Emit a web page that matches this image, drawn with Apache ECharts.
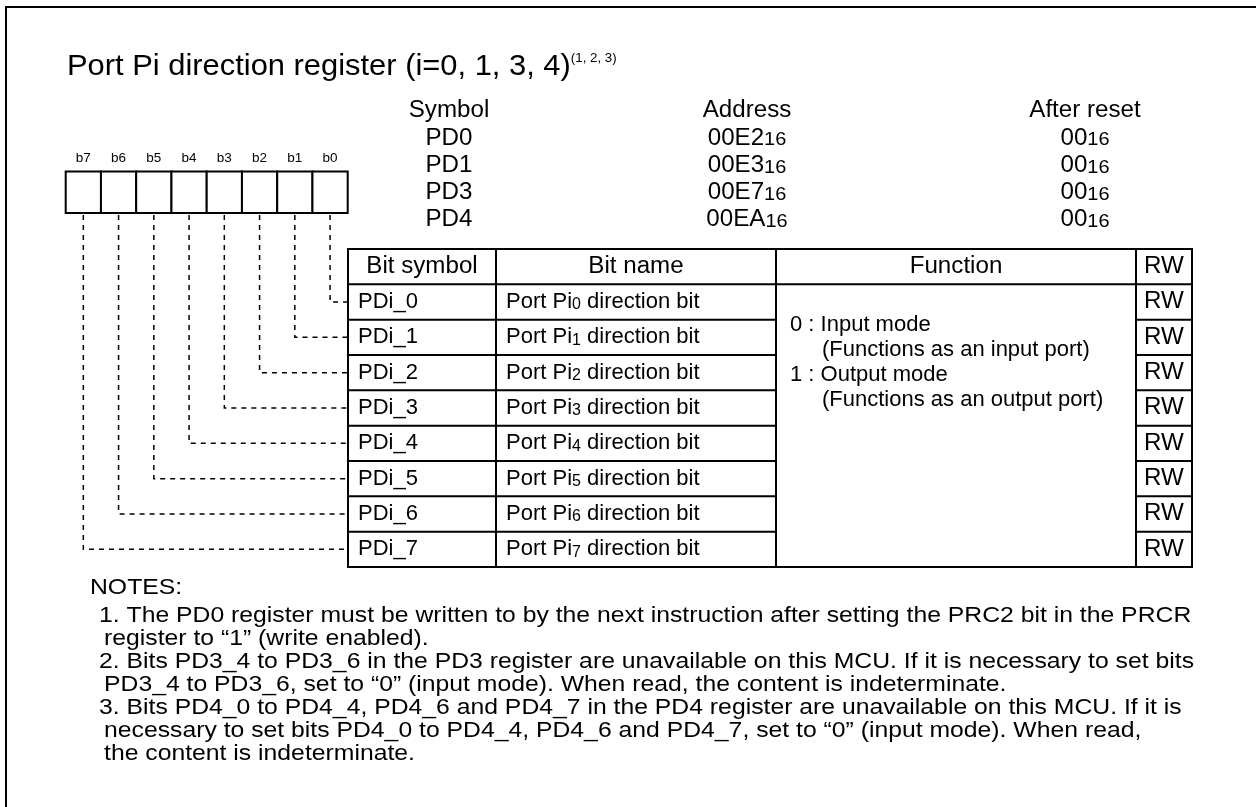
<!DOCTYPE html>
<html><head><meta charset="utf-8">
<script src="https://cdn.jsdelivr.net/npm/echarts@6/dist/echarts.min.js"></script>
<style>html,body{margin:0;padding:0;background:#fff}#c{width:1256px;height:807px}</style>
</head><body><div id="c"></div>
<script>
// ---------------- data ----------------
const titleText = 'Port Pi direction register (i=0, 1, 3, 4)';
const titleNoteRefs = '(1, 2, 3)';
const bitLabels = ['b7', 'b6', 'b5', 'b4', 'b3', 'b2', 'b1', 'b0'];
const regHeaders = ['Symbol', 'Address', 'After reset'];
const regSymbols = ['PD0', 'PD1', 'PD3', 'PD4'];
const regAddresses = ['00E2', '00E3', '00E7', '00EA'];
const regResets = ['00', '00', '00', '00'];
const radixSuffix = '16';
const tableHeaders = ['Bit symbol', 'Bit name', 'Function', 'RW'];
const bitSymbols = ['PDi_0', 'PDi_1', 'PDi_2', 'PDi_3', 'PDi_4', 'PDi_5', 'PDi_6', 'PDi_7'];
const bitNumbers = ['0', '1', '2', '3', '4', '5', '6', '7'];
const bitNamePrefix = 'Port Pi';
const bitNameSuffix = ' direction bit';
const rwValues = ['RW', 'RW', 'RW', 'RW', 'RW', 'RW', 'RW', 'RW'];
const functionLines = ['0 : Input mode', '(Functions as an input port)', '1 : Output mode', '(Functions as an output port)'];
const notesHeader = 'NOTES:';
const notes = [
  ['1. The PD0 register must be written to by the next instruction after setting the PRC2 bit in the PRCR',
   'register to \u201C1\u201D (write enabled).'],
  ['2. Bits PD3_4 to PD3_6 in the PD3 register are unavailable on this MCU. If it is necessary to set bits',
   'PD3_4 to PD3_6, set to \u201C0\u201D (input mode). When read, the content is indeterminate.'],
  ['3. Bits PD4_0 to PD4_4, PD4_6 and PD4_7 in the PD4 register are unavailable on this MCU. If it is',
   'necessary to set bits PD4_0 to PD4_4, PD4_6 and PD4_7, set to \u201C0\u201D (input mode). When read,',
   'the content is indeterminate.']
];

// ---------------- layout (axis units = px) ----------------
const W = 1256, H = 807;
const FONT = '"Liberation Sans", Arial, Helvetica, sans-serif';
const L = {
  frame: { x: 6, y: 7, lw: 2 },
  title: { x: 67, y: 66.5, size: 29, sx: 1.065, supSize: 12.5 },
  box: { x0: 65.7, w: 35.25, y0: 171.5, y1: 213, lw: 2, labelY: 158.5, labelSize: 13.5 },
  reg: { cols: [449, 747, 1085], y0: 111, dy: 27.2, size: 23, sx: 1.05, subSize: 19 },
  table: { x: [348, 496, 776, 1136, 1192], y0: 249, rowH: 35.33, lw: 2, headSize: 23, headSx: 1.05, bodySize: 22, subSize: 16, rwSize: 23, rwSx: 1.05, padL: 10 },
  dash: { lw: 1.5, dash: [5, 5] },
  func: { x0: 790, x1: 822, y0: 325, dy: 25, size: 22 },
  notes: { headX: 90, headY: 588, x0: 99, x1: 104, y0: 616, dy: 23, size: 22.5, sx: 1.1 }
};

// ---------------- helpers ----------------
function txt(api, x, y, text, size, align, rich, sx) {
  const p = api.coord([x, y]);
  const style = {
    text: text, fill: '#000', fontSize: size, fontFamily: FONT,
    align: align, textAlign: align, verticalAlign: 'middle', textVerticalAlign: 'middle'
  };
  if (rich) style.rich = rich;
  const el = { type: 'text', x: p[0], y: p[1], style: style };
  if (sx) { el.scaleX = sx; el.scaleY = 1; }
  return el;
}
function ln(api, x1, y1, x2, y2, lw, dash) {
  const a = api.coord([x1, y1]), b = api.coord([x2, y2]);
  return { type: 'line', shape: { x1: a[0], y1: a[1], x2: b[0], y2: b[1] },
    style: { stroke: '#000', lineWidth: lw, lineDash: dash || null, fill: null } };
}
function custom(name, arr, renderItem) {
  return { type: 'custom', name: name, coordinateSystem: 'cartesian2d', silent: true, clip: false,
    data: arr.map(function (_, i) { return [i, 0]; }), renderItem: renderItem };
}
const T = L.table;
function rowCenter(r) { return T.y0 + T.rowH * r + T.rowH / 2; }
function subRich(main, sub) {
  return { m: { fontSize: main, fontFamily: FONT, fill: '#000', verticalAlign: 'bottom' },
           s: { fontSize: sub, fontFamily: FONT, fill: '#000', verticalAlign: 'bottom' } };
}

const series = [];

// frame
series.push(custom('frame', [0], function (params, api) {
  return { type: 'group', children: [
    ln(api, L.frame.x - 1, L.frame.y, W, L.frame.y, L.frame.lw),
    ln(api, L.frame.x, L.frame.y, L.frame.x, H, L.frame.lw)
  ] };
}));

// title
series.push(custom('title', [0], function (params, api) {
  return txt(api, L.title.x, L.title.y, '{t|' + titleText + '}{s|' + titleNoteRefs + '}', L.title.size, 'left', {
    t: { fontSize: L.title.size, fontFamily: FONT, fill: '#000', verticalAlign: 'middle' },
    s: { fontSize: L.title.supSize, fontFamily: FONT, fill: '#000', verticalAlign: 'top' }
  }, L.title.sx);
}));

// bit boxes + labels
series.push(custom('bits', bitLabels, function (params, api) {
  const i = api.value(0), B = L.box;
  const x = B.x0 + i * B.w;
  const a = api.coord([x, B.y0]), b = api.coord([x + B.w, B.y1]);
  return { type: 'group', children: [
    { type: 'rect', shape: { x: a[0], y: a[1], width: b[0] - a[0], height: b[1] - a[1] },
      style: { stroke: '#000', lineWidth: B.lw, fill: '#fff' } },
    txt(api, x + B.w / 2, B.labelY, bitLabels[i], B.labelSize, 'center')
  ] };
}));

// dashed connectors
series.push(custom('connectors', bitLabels, function (params, api) {
  const i = api.value(0), B = L.box;
  const row = bitLabels.length - i;          // b0 -> first body row
  const cx = B.x0 + i * B.w + B.w / 2;
  const y = rowCenter(row);
  const p1 = api.coord([cx, B.y1 + 2]), p2 = api.coord([cx, y]), p3 = api.coord([T.x[0], y]);
  return { type: 'polyline', shape: { points: [p1, p2, p3] },
    style: { stroke: '#000', lineWidth: L.dash.lw, lineDash: L.dash.dash, fill: null } };
}));

// register info headers
series.push(custom('regHeaders', regHeaders, function (params, api) {
  const i = api.value(0);
  return txt(api, L.reg.cols[i], L.reg.y0, regHeaders[i], L.reg.size, 'center', null, L.reg.sx);
}));
// register rows
series.push(custom('regRows', regSymbols, function (params, api) {
  const i = api.value(0), R = L.reg, y = R.y0 + R.dy * (i + 1);
  const rich = subRich(R.size, R.subSize);
  return { type: 'group', children: [
    txt(api, R.cols[0], y, regSymbols[i], R.size, 'center', null, R.sx),
    txt(api, R.cols[1], y, '{m|' + regAddresses[i] + '}{s|' + radixSuffix + '}', R.size, 'center', rich, R.sx),
    txt(api, R.cols[2], y, '{m|' + regResets[i] + '}{s|' + radixSuffix + '}', R.size, 'center', rich, R.sx)
  ] };
}));

// table column lines + outer frame
series.push(custom('tableCols', T.x, function (params, api) {
  const i = api.value(0);
  const yb = T.y0 + T.rowH * (bitSymbols.length + 1);
  return ln(api, T.x[i], T.y0, T.x[i], yb, T.lw);
}));

// table header
series.push(custom('tableHeader', tableHeaders, function (params, api) {
  const i = api.value(0);
  const y = rowCenter(0);
  const children = [txt(api, (T.x[i] + T.x[i + 1]) / 2, y, tableHeaders[i], T.headSize, 'center', null, T.headSx)];
  children.push(ln(api, T.x[i] - 1, T.y0, T.x[i + 1] + 1, T.y0, T.lw));
  children.push(ln(api, T.x[i] - 1, T.y0 + T.rowH, T.x[i + 1] + 1, T.y0 + T.rowH, T.lw));
  return { type: 'group', children: children };
}));

// table body rows
series.push(custom('tableRows', bitSymbols, function (params, api) {
  const j = api.value(0), r = j + 1;
  const y = rowCenter(r);
  const yb = T.y0 + T.rowH * (r + 1);
  const children = [
    txt(api, T.x[0] + T.padL, y, bitSymbols[j], T.bodySize, 'left'),
    txt(api, T.x[1] + T.padL, y, '{m|' + bitNamePrefix + '}{s|' + bitNumbers[j] + '}{m|' + bitNameSuffix + '}', T.bodySize, 'left', subRich(T.bodySize, T.subSize)),
    txt(api, (T.x[3] + T.x[4]) / 2, y, rwValues[j], T.rwSize, 'center', null, T.rwSx),
    ln(api, T.x[0] - 1, yb, T.x[2] + 1, yb, T.lw),
    ln(api, T.x[3] - 1, yb, T.x[4] + 1, yb, T.lw)
  ];
  if (j === bitSymbols.length - 1) children.push(ln(api, T.x[0] - 1, yb, T.x[4] + 1, yb, T.lw));
  return { type: 'group', children: children };
}));

// function text
series.push(custom('function', functionLines, function (params, api) {
  const i = api.value(0), F = L.func;
  return txt(api, i % 2 ? F.x1 : F.x0, F.y0 + F.dy * i, functionLines[i], F.size, 'left');
}));

// notes
const noteLines = [];
notes.forEach(function (n) { n.forEach(function (s, k) { noteLines.push({ text: s, first: k === 0 }); }); });
series.push(custom('notesHeader', [0], function (params, api) {
  return txt(api, L.notes.headX, L.notes.headY, notesHeader, L.notes.size, 'left', null, L.notes.sx);
}));
series.push(custom('notes', noteLines, function (params, api) {
  const i = api.value(0), N = L.notes, item = noteLines[i];
  return txt(api, item.first ? N.x0 : N.x1, N.y0 + N.dy * i, item.text, N.size, 'left', null, N.sx);
}));

const chart = echarts.init(document.getElementById('c'), null, { renderer: 'canvas' });
chart.setOption({
  animation: false,
  backgroundColor: '#fff',
  grid: { left: 0, right: 0, top: 0, bottom: 0 },
  xAxis: { type: 'value', min: 0, max: W, show: false },
  yAxis: { type: 'value', min: 0, max: H, inverse: true, show: false },
  series: series
});
</script>
</body></html>
